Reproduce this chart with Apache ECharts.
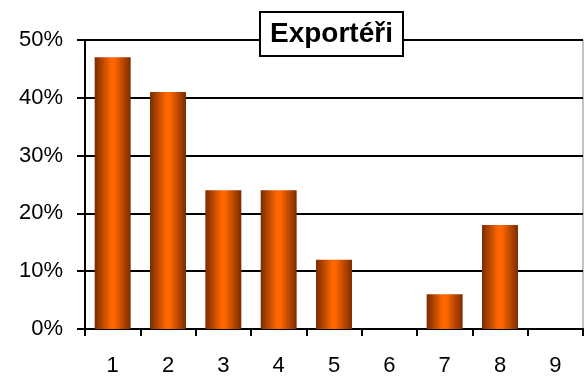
<!DOCTYPE html>
<html><head><meta charset="utf-8">
<script src="https://cdn.jsdelivr.net/npm/echarts@6/dist/echarts.min.js"></script>
<style>html,body{margin:0;padding:0;background:#fff}#c{width:587px;height:378px}</style>
</head><body><div id="c"></div>
<script>
const categories = ['1','2','3','4','5','6','7','8','9'];
const values = [47, 41, 24, 24, 12, 0, 6, 18, 0];
const titleText = 'Exportéři';
const yTicks = [0, 10, 20, 30, 40, 50];

const chart = echarts.init(document.getElementById('c'), null, {renderer: 'canvas'});
const barColor = new echarts.graphic.LinearGradient(0, 0, 1, 0, [
  {offset: 0, color: '#7a2c00'},
  {offset: 0.45, color: '#ff6600'},
  {offset: 0.55, color: '#ff6600'},
  {offset: 1, color: '#7a2c00'}
]);
chart.setOption({
  animation: false,
  title: {
    text: titleText, left: 260, top: 12,
    padding: [8, 10, 8, 10],
    borderColor: '#000', borderWidth: 2, backgroundColor: '#fff',
    textStyle: {fontFamily: 'Liberation Sans, Arial', fontWeight: 'bold', fontSize: 28, color: '#000'}
  },
  grid: {left: 85, right: 4, top: 40, bottom: 49, containLabel: false, show: true, borderColor: '#888', borderWidth: 1},
  xAxis: {
    type: 'category', data: categories,
    axisLine: {lineStyle: {color: '#000', width: 2}},
    axisTick: {show: true, length: 7, lineStyle: {color: '#000', width: 2}},
    axisLabel: {fontFamily: 'Liberation Sans, Arial', fontSize: 22, color: '#000', margin: 26}
  },
  yAxis: {
    type: 'value', min: yTicks[0], max: yTicks[yTicks.length - 1], interval: 10,
    axisLine: {show: true, lineStyle: {color: '#000', width: 2}},
    axisTick: {show: true, length: 8, lineStyle: {color: '#000', width: 2}},
    axisLabel: {fontFamily: 'Liberation Sans, Arial', fontSize: 22, color: '#000', margin: 22, formatter: v => v + '%'},
    splitLine: {lineStyle: {color: '#000', width: 2}}
  },
  series: [{
    type: 'bar', data: values, barWidth: '65%',
    itemStyle: {color: barColor}, z: 3
  }]
});
</script></body></html>
